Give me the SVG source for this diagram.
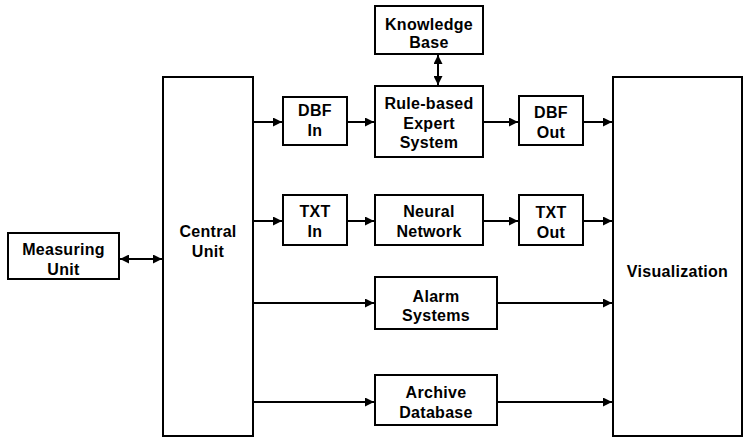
<svg xmlns="http://www.w3.org/2000/svg" width="746" height="440" viewBox="0 0 746 440">
  <style>
    .box { fill: #ffffff; stroke: #000000; stroke-width: 2; }
    .lbl { font-family: "Liberation Sans", Arial, sans-serif; font-weight: bold; font-size: 16px; fill: #000000; text-anchor: middle; letter-spacing: 0.3px; }
    .wire { stroke: #000000; stroke-width: 2; fill: none; }
  </style>
  <defs>
    <marker id="head" viewBox="0 0 10 10" refX="10" refY="5" markerWidth="4.5" markerHeight="4.5" orient="auto-start-reverse" markerUnits="strokeWidth">
      <path d="M0,0 L10,5 L0,10 z" fill="#000000"/>
    </marker>
  </defs>
  <rect width="746" height="440" fill="#ffffff"/>

  <g id="connectors">
    <line class="wire" x1="120" y1="259" x2="162" y2="259" marker-start="url(#head)" marker-end="url(#head)"/>
    <line class="wire" x1="438" y1="55" x2="438" y2="85" marker-start="url(#head)" marker-end="url(#head)"/>
    <line class="wire" x1="254" y1="122" x2="282" y2="122" marker-end="url(#head)"/>
    <line class="wire" x1="348" y1="122" x2="374" y2="122" marker-end="url(#head)"/>
    <line class="wire" x1="484" y1="122" x2="518" y2="122" marker-end="url(#head)"/>
    <line class="wire" x1="584" y1="122" x2="612" y2="122" marker-end="url(#head)"/>
    <line class="wire" x1="254" y1="221" x2="282" y2="221" marker-end="url(#head)"/>
    <line class="wire" x1="348" y1="221" x2="374" y2="221" marker-end="url(#head)"/>
    <line class="wire" x1="484" y1="221" x2="518" y2="221" marker-end="url(#head)"/>
    <line class="wire" x1="584" y1="221" x2="612" y2="221" marker-end="url(#head)"/>
    <line class="wire" x1="254" y1="303" x2="374" y2="303" marker-end="url(#head)"/>
    <line class="wire" x1="498" y1="303" x2="612" y2="303" marker-end="url(#head)"/>
    <line class="wire" x1="254" y1="402" x2="374" y2="402" marker-end="url(#head)"/>
    <line class="wire" x1="498" y1="402" x2="612" y2="402" marker-end="url(#head)"/>
  </g>

  <g id="measuring-unit">
    <rect class="box" x="8" y="233" width="111" height="46"/>
    <text class="lbl" x="63.5" y="255">Measuring</text>
    <text class="lbl" x="63.5" y="275">Unit</text>
  </g>

  <g id="central-unit">
    <rect class="box" x="163" y="77" width="90" height="359"/>
    <text class="lbl" x="208" y="237">Central</text>
    <text class="lbl" x="208" y="257">Unit</text>
  </g>

  <g id="knowledge-base">
    <rect class="box" x="375" y="6" width="108" height="48"/>
    <text class="lbl" x="429" y="30">Knowledge</text>
    <text class="lbl" x="429" y="48">Base</text>
  </g>

  <g id="expert-system">
    <rect class="box" x="375" y="86" width="108" height="71"/>
    <text class="lbl" x="429" y="109">Rule-based</text>
    <text class="lbl" x="429" y="129">Expert</text>
    <text class="lbl" x="429" y="148">System</text>
  </g>

  <g id="dbf-in">
    <rect class="box" x="283" y="97" width="64" height="48"/>
    <text class="lbl" x="315" y="116">DBF</text>
    <text class="lbl" x="315" y="136">In</text>
  </g>

  <g id="dbf-out">
    <rect class="box" x="519" y="96" width="64" height="49"/>
    <text class="lbl" x="551" y="118">DBF</text>
    <text class="lbl" x="551" y="138">Out</text>
  </g>

  <g id="txt-in">
    <rect class="box" x="283" y="195" width="64" height="50"/>
    <text class="lbl" x="315" y="217">TXT</text>
    <text class="lbl" x="315" y="237">In</text>
  </g>

  <g id="neural-network">
    <rect class="box" x="375" y="195" width="108" height="50"/>
    <text class="lbl" x="429" y="217">Neural</text>
    <text class="lbl" x="429" y="237">Network</text>
  </g>

  <g id="txt-out">
    <rect class="box" x="519" y="195" width="64" height="50"/>
    <text class="lbl" x="551" y="218">TXT</text>
    <text class="lbl" x="551" y="238">Out</text>
  </g>

  <g id="alarm-systems">
    <rect class="box" x="375" y="277" width="122" height="52"/>
    <text class="lbl" x="436" y="302">Alarm</text>
    <text class="lbl" x="436" y="321">Systems</text>
  </g>

  <g id="archive-database">
    <rect class="box" x="375" y="375" width="122" height="50"/>
    <text class="lbl" x="436" y="398">Archive</text>
    <text class="lbl" x="436" y="418">Database</text>
  </g>

  <g id="visualization">
    <rect class="box" x="613" y="77" width="129" height="359"/>
    <text class="lbl" x="677.5" y="277">Visualization</text>
  </g>
</svg>
